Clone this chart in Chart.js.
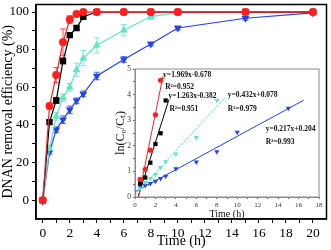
<!DOCTYPE html>
<html>
<head>
<meta charset="utf-8">
<script src="https://cdn.jsdelivr.net/npm/chart.js@4.4.0/dist/chart.umd.min.js"></script>
<style>
  html, body { margin: 0; padding: 0; background: #fff; }
  #wrap { position: relative; width: 331px; height: 250px; }
  #main { position: absolute; left: 0; top: 0; }
  #inset { position: absolute; left: 100px; top: 62px; }
</style>
</head>
<body>
<div id="wrap">
  <canvas id="main" width="331" height="250"></canvas>
  <canvas id="inset" width="225" height="158"></canvas>
</div>
<script>
// main plot: removal efficiency vs time
const times = [0, 0.5, 1, 1.5, 2, 2.5, 3, 4, 6, 8, 10, 15, 20];
const redEff = [0, 50, 66.5, 84, 96, 99, 100, 100, 100, 100, 100, 100, 100];
const blackEff = [0, 41.5, 53, 74, 87.7, 91.5, 97.5, 100, 100, 100, 100, 100, 100];
const cyanEff = [0, 27.5, 44.5, 54.5, 60, 69.3, 75.5, 82.3, 90.3, 97.6, 99.7, 100, 100];
const blueEff = [-0.5, 25.5, 37.5, 42.8, 48, 52.8, 56.5, 66, 74.8, 83, 91.5, 96.7, 99.5];
const redErr = [0, 1.5, 4, 7, 2, 1, 0.5, 0, 0, 0, 0, 0, 0];
const blackErr = [0, 1, 1.5, 1.5, 1, 1, 0.5, 0, 0, 0, 0, 0, 0];
const cyanErr = [0, 1.5, 2, 2, 2, 3.5, 4, 4, 3, 1.5, 0.5, 0, 0];
const blueErr = [1, 1, 1.5, 2, 2, 1.5, 1.5, 2, 1.5, 1, 1, 1, 0];
const xTicks = [0, 1, 2, 3, 4, 5, 6, 7, 8, 9, 10, 11, 12, 13, 14, 15, 16, 17, 18, 19, 20];
const yTicks = [0, 10, 20, 30, 40, 50, 60, 70, 80, 90, 100];

// inset: ln(C0/Ct) vs time
const redT = [0.5, 1, 1.5, 2, 2.5];
const redLn = [0.69, 1.08, 1.83, 3.21, 4.56];
const blackT = [0.5, 1, 1.5, 2, 2.5, 3];
const blackLn = [0.53, 0.76, 1.34, 2.07, 2.49, 3.77];
const cyanT = [0.5, 1, 1.5, 2, 2.5, 3, 4, 6, 8];
const cyanLn = [0.32, 0.58, 0.72, 0.88, 1.15, 1.38, 1.68, 2.32, 3.77];
const blueT = [0.5, 1, 1.5, 2, 2.5, 3, 4, 6, 8, 10, 15];
const blueLn = [0.42, 0.46, 0.53, 0.62, 0.72, 0.81, 1.1, 1.37, 1.77, 2.53, 3.47];
// fitted line end points
const redFitT = [0.35, 2.74];
const redFitLn = [0, 4.72];
const blackFitT = [0.3, 3.3];
const blackFitLn = [0, 3.78];
const cyanFitT = [0, 8.85];
const cyanFitLn = [0.08, 3.9];
const blueFitT = [0, 16.5];
const blueFitLn = [0.2, 3.78];
const fitText = ['y=1.969x-0.678', 'R²=0.952', 'y=1.263x-0.382', 'R²=0.951',
                 'y=0.432x+0.078', 'R²=0.979', 'y=0.217x+0.204', 'R²=0.993'];
const fitTextT = [2.75, 2.95, 3.27, 3.37, 9.08, 9.08, 12.78, 12.78];
const fitTextLn = [4.78, 4.3, 3.95, 3.43, 3.99, 3.43, 2.65, 2.16];
const insetXTicks = [0, 1, 2, 3, 4, 5, 6, 7, 8, 9, 10, 11, 12, 13, 14, 15, 16, 17, 18];
const insetYTicks = [0, 0.5, 1, 1.5, 2, 2.5, 3, 3.5, 4, 4.5, 5];

const RED = '#ff1f1f', BLACK = '#000000', CYAN = '#5ce6c4', BLUE = '#2343ee';
const serif = "'Times New Roman', 'Liberation Serif', serif";

function pts(xs, ys) {
  return xs.map((x, i) => ({ x: x, y: ys[i] }));
}

const frame = {
  id: 'frame',
  beforeDraw(chart, args, opts) {
    if (opts.fill) {
      const a = chart.chartArea;
      chart.ctx.save();
      chart.ctx.fillStyle = opts.fill;
      chart.ctx.fillRect(a.left, a.top, a.right - a.left, a.bottom - a.top);
      chart.ctx.restore();
    }
  },
  afterDraw(chart, args, opts) {
    const a = chart.chartArea, ctx = chart.ctx;
    ctx.save();
    ctx.strokeStyle = opts.color;
    ctx.lineWidth = opts.width;
    ctx.strokeRect(a.left, a.top, a.right - a.left, a.bottom - a.top);
    ctx.restore();
  }
};

const errorBars = {
  id: 'errorBars',
  beforeDatasetsDraw(chart) {
    const ctx = chart.ctx, ys = chart.scales.y;
    chart.data.datasets.forEach((ds, i) => {
      if (!ds.errors) return;
      const meta = chart.getDatasetMeta(i);
      ctx.save();
      ctx.strokeStyle = ds.borderColor;
      ctx.lineWidth = 0.8;
      meta.data.forEach((p, j) => {
        const e = ds.errors[j];
        if (!e) return;
        const v = ds.data[j].y;
        const top = ys.getPixelForValue(v + e), bot = ys.getPixelForValue(v - e);
        ctx.beginPath();
        ctx.moveTo(p.x, top); ctx.lineTo(p.x, bot);
        ctx.moveTo(p.x - 3, top); ctx.lineTo(p.x + 3, top);
        ctx.moveTo(p.x - 3, bot); ctx.lineTo(p.x + 3, bot);
        ctx.stroke();
      });
      ctx.restore();
    });
  }
};

const fitLabels = {
  id: 'fitLabels',
  afterDatasetsDraw(chart) {
    const ctx = chart.ctx, xs = chart.scales.x, ys = chart.scales.y;
    ctx.save();
    ctx.font = 'bold 7.5px ' + serif;
    ctx.fillStyle = '#111';
    ctx.textAlign = 'left';
    ctx.textBaseline = 'middle';
    fitText.forEach((t, i) => {
      ctx.fillText(t, xs.getPixelForValue(fitTextT[i]), ys.getPixelForValue(fitTextLn[i]));
    });
    ctx.restore();
  }
};

function series(label, xs, ys, color, style, radius, errs, rot) {
  return {
    label: label,
    data: pts(xs, ys),
    borderColor: color,
    backgroundColor: color,
    borderWidth: 1.2,
    pointStyle: style,
    pointRadius: radius,
    pointRotation: rot || 0,
    pointBorderWidth: 0,
    tension: 0,
    errors: errs
  };
}

new Chart(document.getElementById('main'), {
  type: 'line',
  data: {
    datasets: [
      series('red', times, redEff, RED, 'circle', 4, redErr),
      series('black', times, blackEff, BLACK, 'rect', 4.5, blackErr),
      series('cyan', times, cyanEff, CYAN, 'triangle', 4.5, cyanErr),
      series('blue', times, blueEff, BLUE, 'triangle', 4.5, blueErr, 180)
    ]
  },
  options: {
    responsive: false,
    animation: false,
    layout: { padding: { top: 1, right: 2, left: 0, bottom: 0 } },
    plugins: {
      legend: { display: false },
      tooltip: { enabled: false },
      frame: { color: '#000', width: 1.5 }
    },
    scales: {
      x: {
        type: 'linear',
        min: -0.5,
        max: 21,
        afterBuildTicks: (s) => { s.ticks = xTicks.map(v => ({ value: v })); },
        afterFit: (s) => { s.height = 31; s.paddingLeft = 0; s.paddingRight = 0; },
        grid: { drawOnChartArea: false, tickLength: 4, color: '#000', tickWidth: 1 },
        border: { color: '#000', width: 1.5 },
        ticks: {
          padding: 2,
          maxRotation: 0,
          autoSkip: false,
          color: '#000',
          font: { family: serif, size: 13.5 },
          callback: (v) => (v % 2 === 0 ? v : '')
        },
        title: {
          display: true,
          text: 'Time (h)',
          color: '#000',
          font: { family: serif, size: 14 },
          padding: { top: 0, bottom: 0 }
        }
      },
      y: {
        min: -10,
        max: 104,
        afterBuildTicks: (s) => { s.ticks = yTicks.map(v => ({ value: v })); },
        afterFit: (s) => { s.width = 36; s.paddingTop = 0; s.paddingBottom = 0; },
        grid: { drawOnChartArea: false, tickLength: 4, color: '#000', tickWidth: 1 },
        border: { color: '#000', width: 1.5 },
        ticks: {
          padding: 3,
          autoSkip: false,
          color: '#000',
          font: { family: serif, size: 13 },
          callback: (v) => (v % 20 === 0 ? v : '')
        },
        title: {
          display: true,
          text: 'DNAN removal efficiency (%)',
          color: '#000',
          font: { family: serif, size: 14 },
          padding: { top: 0, bottom: 0 }
        }
      }
    }
  },
  plugins: [frame, errorBars]
});

function fitLine(label, xs, ys, color, dash) {
  return {
    label: label,
    data: pts(xs, ys),
    showLine: true,
    borderColor: color,
    borderWidth: 1,
    borderDash: dash || [],
    pointRadius: 0
  };
}

function scat(label, xs, ys, color, style, radius, rot) {
  return {
    label: label,
    data: pts(xs, ys),
    showLine: false,
    borderColor: color,
    backgroundColor: color,
    pointStyle: style,
    pointRadius: radius,
    pointRotation: rot || 0,
    pointBorderWidth: 0
  };
}

new Chart(document.getElementById('inset'), {
  type: 'scatter',
  data: {
    datasets: [
      scat('red', redT, redLn, RED, 'circle', 2.6),
      scat('black', blackT, blackLn, BLACK, 'rect', 3),
      scat('cyan', cyanT, cyanLn, CYAN, 'triangle', 3, 180),
      scat('blue', blueT, blueLn, BLUE, 'triangle', 3, 180),
      fitLine('red fit', redFitT, redFitLn, RED),
      fitLine('black fit', blackFitT, blackFitLn, BLACK),
      fitLine('cyan fit', cyanFitT, cyanFitLn, CYAN, [3, 1]),
      fitLine('blue fit', blueFitT, blueFitLn, BLUE)
    ]
  },
  options: {
    responsive: false,
    animation: false,
    layout: { padding: { top: 7, right: 6, left: 0, bottom: 0 } },
    plugins: {
      legend: { display: false },
      tooltip: { enabled: false },
      frame: { color: '#8a8a8a', width: 1, fill: '#fff' }
    },
    scales: {
      x: {
        type: 'linear',
        min: 0,
        max: 18,
        afterBuildTicks: (s) => { s.ticks = insetXTicks.map(v => ({ value: v })); },
        afterFit: (s) => { s.height = 23; s.paddingLeft = 0; s.paddingRight = 0; },
        grid: { drawOnChartArea: false, tickLength: 2, color: '#666' },
        border: { color: '#8a8a8a', width: 1 },
        ticks: {
          padding: 2,
          maxRotation: 0,
          autoSkip: false,
          color: '#333',
          font: { family: serif, size: 7 },
          callback: (v) => (v % 2 === 0 ? v : '')
        },
        title: {
          display: true,
          text: 'Time (h)',
          color: '#111',
          font: { family: serif, size: 10 },
          padding: { top: 1, bottom: 0 }
        }
      },
      y: {
        min: 0,
        max: 5,
        afterBuildTicks: (s) => { s.ticks = insetYTicks.map(v => ({ value: v })); },
        afterFit: (s) => { s.width = 35; s.paddingTop = 0; s.paddingBottom = 0; },
        grid: { drawOnChartArea: false, tickLength: 2, color: '#666' },
        border: { color: '#8a8a8a', width: 1 },
        ticks: {
          padding: 2,
          autoSkip: false,
          color: '#333',
          font: { family: serif, size: 7.5 },
          callback: (v) => (Number.isInteger(v) ? v : '')
        },
        title: {
          display: true,
          text: 'ln(C₀/Cₜ)',
          color: '#111',
          font: { family: serif, size: 12 },
          padding: { top: 14, bottom: 0 }
        }
      }
    }
  },
  plugins: [frame, fitLabels]
});
</script>
</body>
</html>
